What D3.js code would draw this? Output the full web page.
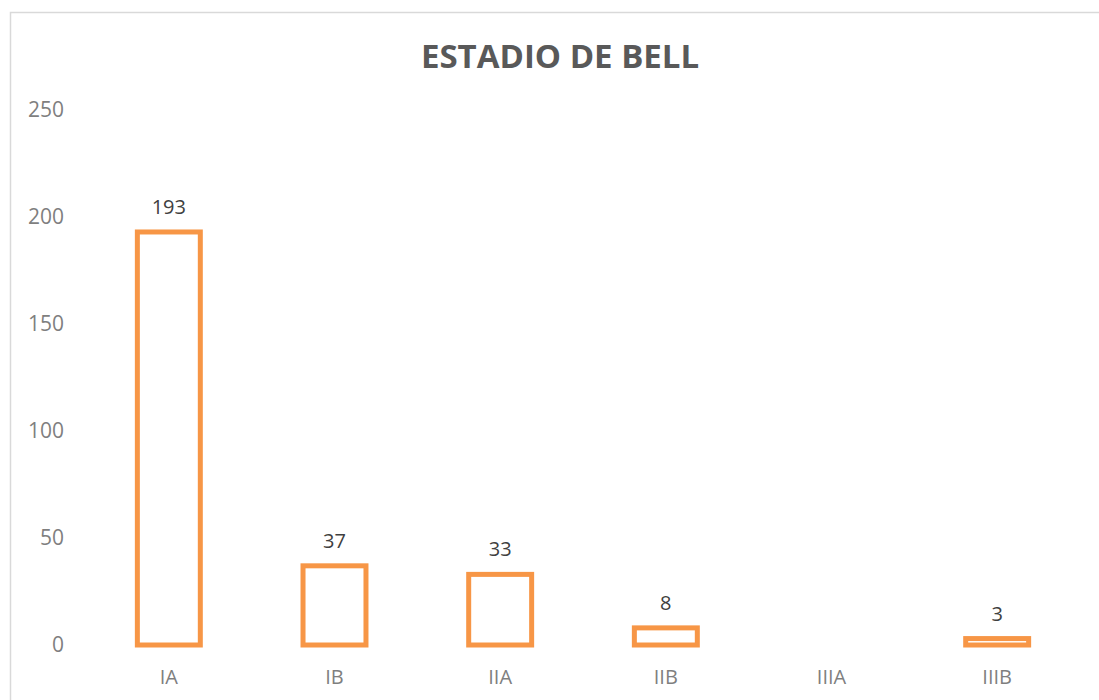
<!DOCTYPE html>
<html>
<head>
<meta charset="utf-8">
<script src="https://cdn.jsdelivr.net/npm/d3@7"></script>
<style>
  body { margin: 0; background: #fff; overflow: hidden; }
  svg { display: block; font-family: "Open Sans", "Noto Sans", sans-serif; }
</style>
</head>
<body>
<div id="chart"></div>
<script>
const width = 1099;
const height = 700;

const title = "ESTADIO DE BELL";
const stages = ["IA", "IB", "IIA", "IIB", "IIIA", "IIIB"];
const counts = [193, 37, 33, 8, 0, 3];
const yTicks = [0, 50, 100, 150, 200, 250];

const margin = { top: 110, right: 19, bottom: 55, left: 86 };

const svg = d3.select("#chart").append("svg")
    .attr("width", width)
    .attr("height", height);

// chart frame, runs off the right and bottom edges like the screenshot
svg.append("rect")
    .attr("x", 10.5)
    .attr("y", 12.5)
    .attr("width", width + 20)
    .attr("height", height + 20)
    .attr("fill", "none")
    .attr("stroke", "#d9d9d9")
    .attr("stroke-width", 1.5);

const x = d3.scaleBand()
    .domain(stages)
    .range([margin.left, width - margin.right])
    .paddingInner(0.62)
    .paddingOuter(0.31);

const y = d3.scaleLinear()
    .domain([0, 250])
    .range([height - margin.bottom, margin.top]);

svg.append("text")
    .attr("x", 560)
    .attr("y", 68)
    .attr("text-anchor", "middle")
    .attr("fill", "#595959")
    .style("font-size", "33px")
    .style("font-weight", 700)
    .text(title);

// y axis labels only, no line / ticks
const yAxis = svg.append("g")
    .attr("transform", `translate(${margin.left - 22},0)`)
    .call(d3.axisLeft(y).tickValues(yTicks).tickSize(0).tickPadding(0));
yAxis.select(".domain").remove();
yAxis.selectAll("text")
    .attr("fill", "#7f7f7f")
    .style("font-size", "21px")
    .style("font-family", "'Open Sans', sans-serif");

const xAxis = svg.append("g")
    .attr("transform", `translate(0,${height - margin.bottom})`)
    .call(d3.axisBottom(x).tickSize(0).tickPadding(25));
xAxis.select(".domain").remove();
xAxis.selectAll("text")
    .attr("fill", "#7f7f7f")
    .style("font-size", "20px")
    .style("font-family", "'Open Sans', sans-serif");

const data = stages.map((s, i) => ({ stage: s, value: counts[i] }));

svg.append("g")
    .selectAll("rect")
    .data(data.filter(d => d.value > 0))
    .join("rect")
    .attr("x", d => x(d.stage))
    .attr("y", d => y(d.value))
    .attr("width", x.bandwidth())
    .attr("height", d => y(0) - y(d.value))
    .attr("fill", "#fff")
    .attr("stroke", "#f79646")
    .attr("stroke-width", 5);

svg.append("g")
    .selectAll("text")
    .data(data.filter(d => d.value > 0))
    .join("text")
    .attr("x", d => x(d.stage) + x.bandwidth() / 2)
    .attr("y", d => y(d.value) - 18)
    .attr("text-anchor", "middle")
    .attr("fill", "#404040")
    .style("font-size", "20px")
    .text(d => d.value);
</script>
</body>
</html>
